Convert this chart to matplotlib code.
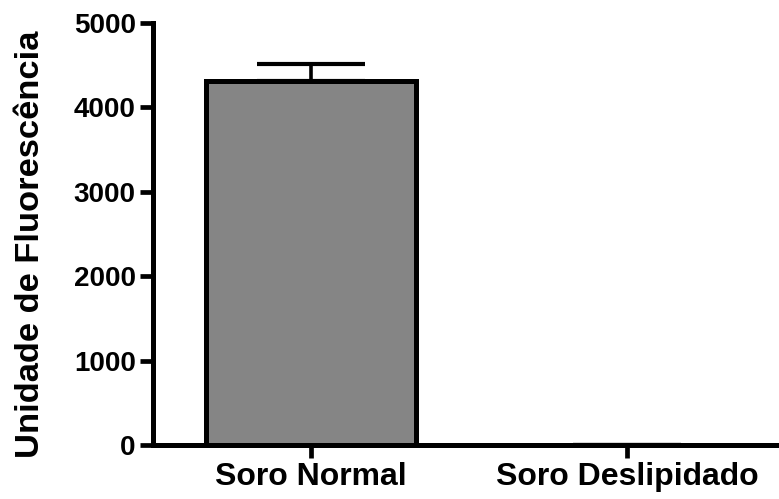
import matplotlib.pyplot as plt

# Fluorescence readings for each serum condition
grupos = ['Soro Normal', 'Soro Deslipidado']
fluorescencia = [4310, 0]
erro_superior = [200, 0]
y_ticks = [0, 1000, 2000, 3000, 4000, 5000]

plt.rcParams['font.family'] = ['Liberation Sans', 'DejaVu Sans']
plt.rcParams['font.weight'] = 'bold'

fig = plt.figure(figsize=(7.79, 4.99), dpi=100)
ax = fig.add_axes([153 / 779, 54 / 499, 626 / 779, 422 / 499])

posicoes = list(range(len(grupos)))

# Upper-only error bar, drawn underneath the bar outline
ax.errorbar(posicoes, fluorescencia, yerr=[[0] * len(grupos), erro_superior],
            fmt='none', ecolor='black', elinewidth=2.6, capsize=39, capthick=3,
            zorder=1)
ax.bar(posicoes, fluorescencia, width=0.665, color='#858585',
       edgecolor='black', linewidth=3.6, zorder=2)

ax.set_xlim(-0.5, 1.48)
ax.set_ylim(0, 5000)
ax.set_xticks(posicoes)
ax.set_xticklabels(grupos, fontsize=23, fontweight='bold')
ax.set_yticks(y_ticks)
ax.set_yticklabels([str(v) for v in y_ticks], fontsize=20, fontweight='bold')

for lado in ['top', 'right']:
    ax.spines[lado].set_visible(False)
for lado in ['left', 'bottom']:
    ax.spines[lado].set_linewidth(3.6)
    ax.spines[lado].set_capstyle('projecting')

ax.tick_params(axis='both', length=9.5, width=3.4, pad=3)

fig.text(31 / 779, 1 - 244 / 499, 'Unidade de Fluorescência', rotation=90,
         ha='center', va='center', fontsize=24.8, fontweight='bold')

fig.savefig('out.png', dpi=100)
